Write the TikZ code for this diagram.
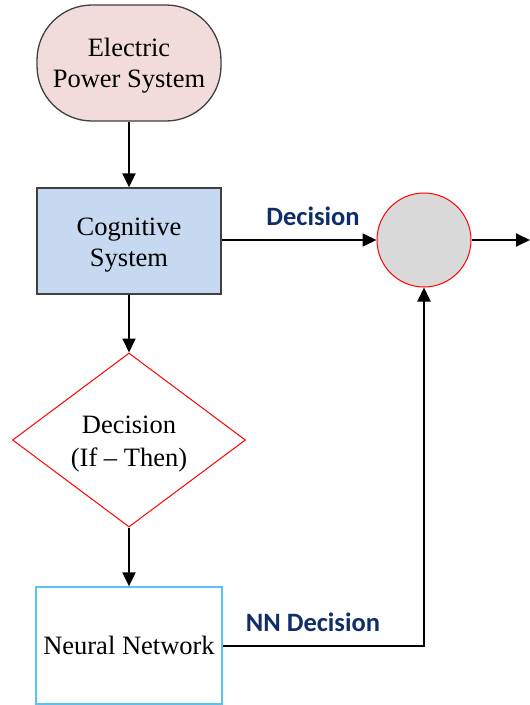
\documentclass[tikz,border=0pt]{standalone}
\usepackage{fontspec}
\setmainfont{Liberation Serif}
\newfontfamily\lblfont{Carlito}
\usetikzlibrary{shapes.geometric,arrows.meta}
\definecolor{pinkfill}{HTML}{F2DCDB}
\definecolor{bluefill}{HTML}{C6D9F1}
\definecolor{navy}{HTML}{0F2D69}
\definecolor{sky}{HTML}{5BC4EE}
\definecolor{boxgray}{HTML}{404040}
\newcommand{\mytwolines}[4]{\raisebox{#1}[\height][\depth]{\fontsize{26.5}{#2}\selectfont\begin{tabular}{@{}c@{}}#3\\#4\end{tabular}}}
\tikzset{
  box/.style={rectangle, draw=boxgray, line width=1.3pt, inner sep=0pt, align=center,
    font=\fontsize{26.5}{31}\selectfont},
  conn/.style={line width=2pt, -{Triangle[length=14pt,width=13pt]}},
  lbl/.style={font=\lblfont\bfseries\fontsize{26.5}{30}\selectfont, text=navy}
}
\begin{document}
\begin{tikzpicture}[x=1pt,y=-1pt]
\useasboundingbox (0,0) rectangle (530,705);
\node[box, fill=pinkfill, rounded corners=55pt, minimum width=184pt, minimum height=116pt] (eps) at (129,63) {\mytwolines{-2.5pt}{31pt}{Electric}{Power System}};
\node[box, fill=bluefill, minimum width=184pt, minimum height=106pt] (cog) at (129,241) {\mytwolines{-3.5pt}{31pt}{Cognitive}{System}};
\node[diamond, draw=red, line width=1pt, aspect=1.34, minimum width=233pt, minimum height=174pt, inner sep=0pt, align=center] (dec) at (129,440) {\mytwolines{-3pt}{33pt}{Decision}{(If -- Then)}};
\node[box, draw=sky, minimum width=186pt, minimum height=117pt] (nn) at (129,645.5) {Neural Network};
\node[circle, draw=red, line width=1pt, fill=black!15, minimum size=94pt, inner sep=0pt] (sum) at (424,240) {};
\coordinate (out) at (530,240);
\coordinate (bend) at (sum.south |- nn.east);
\draw[conn] (eps.south) -- (cog.north);
\draw[conn] (cog.east |- sum.west) -- (sum.west);
\draw[conn] (sum.east) -- (out);
\draw[conn] (cog.south) -- (dec.north);
\draw[conn] (dec.south) -- (nn.north);
\draw[conn] (nn.east) -- (bend) -- (sum.south);
\node[lbl] (l1) at (313,216) {Decision};
\node[lbl] (l2) at (313,622) {NN Decision};
\end{tikzpicture}
\end{document}
